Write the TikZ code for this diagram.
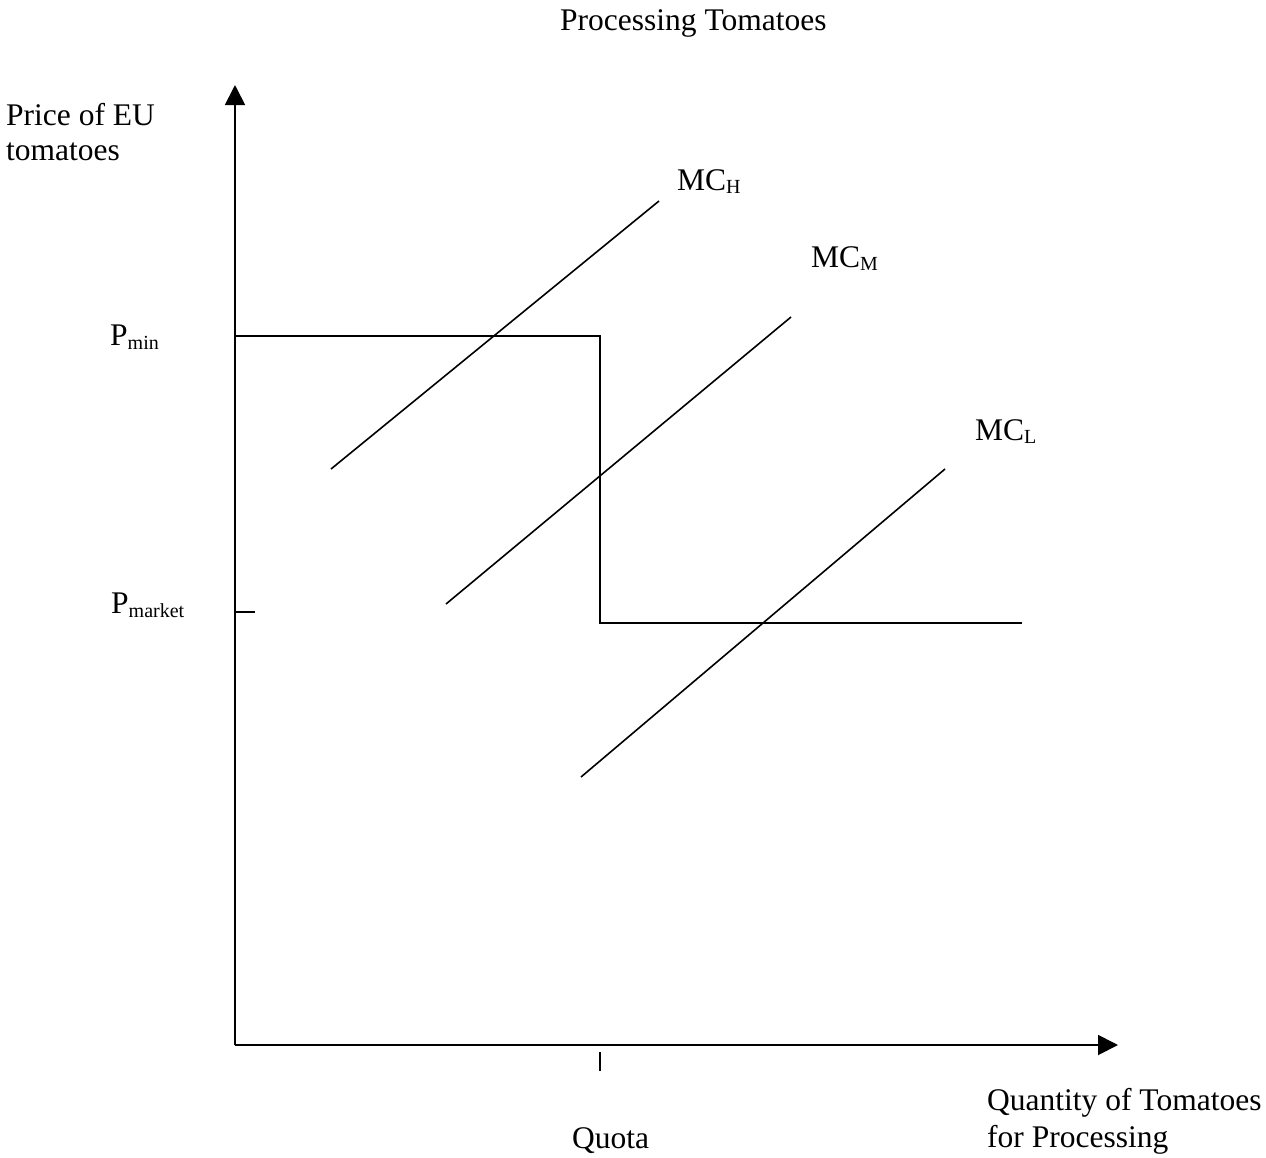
\documentclass[tikz,border=0pt]{standalone}
\usepackage{fontspec}
\setmainfont{Liberation Serif}
\usetikzlibrary{arrows.meta}
\newcommand{\sbs}[1]{\raisebox{-4pt}{\fontsize{20}{20}\selectfont #1}}
\begin{document}
\begin{tikzpicture}[x=1pt,y=-1pt,
  lbl/.style={inner sep=0pt,anchor=base west,font=\fontsize{31.5}{36}\selectfont},
  axis/.style={line width=1.8pt,-{Triangle[length=20pt,width=20pt]}},
  curve/.style={line width=1.6pt},
  tick/.style={line width=1.6pt}]
\useasboundingbox (0,0) rectangle (1266,1157);
\fill[white] (0,0) rectangle (1266,1157);
% coordinates
\coordinate (O) at (235,1045);
\coordinate (ytop) at (235,85);
\coordinate (xend) at (1118,1045);
\coordinate (pmin) at (235,336);
\coordinate (qtop) at (600,336);
\coordinate (qbot) at (600,623);
\coordinate (pend) at (1022,623);
\coordinate (pm1) at (235,612);
\coordinate (pm2) at (255,612);
\coordinate (qt1) at (600,1052);
\coordinate (qt2) at (600,1071);
\coordinate (h1) at (331,469);
\coordinate (h2) at (659,201);
\coordinate (m1) at (446,604);
\coordinate (m2) at (791,317);
\coordinate (l1) at (581,777);
\coordinate (l2) at (945,469);
% axes
\draw[axis] (O) -- (ytop);
\draw[axis] (O) -- (xend);
% price schedule
\draw[curve] (pmin) -- (qtop) -- (qbot) -- (pend);
% ticks
\draw[tick] (pm1) -- (pm2);
\draw[tick] (qt1) -- (qt2);
% MC lines
\draw[curve] (h1) -- (h2);
\draw[curve] (m1) -- (m2);
\draw[curve] (l1) -- (l2);
% labels
\node[lbl] (title) at (560,30) {Processing Tomatoes};
\node[lbl] (ylab1) at (6,125) {Price of EU};
\node[lbl] (ylab2) at (6,160) {tomatoes};
\node[lbl] (pminlab) at (110,345) {P\sbs{min}};
\node[lbl] (pmktlab) at (111,613) {P\sbs{market}};
\node[lbl] (mchlab) at (677,190) {MC\raisebox{-3pt}{\fontsize{20}{20}\selectfont H}};
\node[lbl] (mcmlab) at (811,267) {MC\raisebox{-3pt}{\fontsize{20}{20}\selectfont M}};
\node[lbl] (mcllab) at (975,440) {MC\raisebox{-3pt}{\fontsize{20}{20}\selectfont L}};
\node[lbl] (quotalab) at (572,1148) {Quota};
\node[lbl] (xlab1) at (987,1110) {Quantity of Tomatoes};
\node[lbl] (xlab2) at (987,1147) {for Processing};
\end{tikzpicture}
\end{document}
